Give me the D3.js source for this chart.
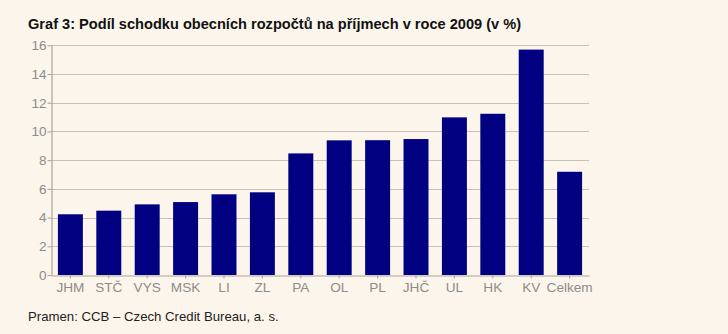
<!DOCTYPE html>
<html>
<head>
<meta charset="utf-8">
<script src="https://cdn.jsdelivr.net/npm/d3@7"></script>
<style>
  html, body { margin: 0; padding: 0; background: #fcf5eb; }
  svg { display: block; font-family: Arial, "Liberation Sans", sans-serif; }
</style>
</head>
<body>
<svg id="chart" width="728" height="334"></svg>
<script>
// Regions and the deficit share of revenues in 2009 (%)
const categories = ["JHM", "STČ", "VYS", "MSK", "LI", "ZL", "PA", "OL", "PL", "JHČ", "UL", "HK", "KV", "Celkem"];
const values = [4.23, 4.48, 4.92, 5.08, 5.62, 5.76, 8.47, 9.38, 9.39, 9.47, 10.98, 11.23, 15.7, 7.19];
const yTicks = [0, 2, 4, 6, 8, 10, 12, 14, 16];

const title = "Graf 3: Podíl schodku obecních rozpočtů na příjmech v roce 2009 (v %)";
const source = "Pramen: CCB – Czech Credit Bureau, a. s.";

const svg = d3.select("#chart");
const margin = { left: 51, right: 139, top: 45.3, bottom: 59 };
const W = 728, H = 334;

const x = d3.scaleBand()
  .domain(categories)
  .range([margin.left, W - margin.right])
  .paddingInner(0.35)
  .paddingOuter(0.18);

const y = d3.scaleLinear()
  .domain([0, 16])
  .range([H - margin.bottom, margin.top]);

// Title
svg.append("text")
  .attr("x", 28).attr("y", 29)
  .attr("font-size", 14.6).attr("font-weight", "bold")
  .attr("fill", "#111")
  .text(title);

// Horizontal gridlines
svg.append("g")
  .selectAll("line")
  .data(yTicks.filter(d => d > 0))
  .join("line")
  .attr("x1", margin.left).attr("x2", W - margin.right)
  .attr("y1", d => Math.round(y(d)) + 0.5).attr("y2", d => Math.round(y(d)) + 0.5)
  .attr("stroke", "#c9c1b7").attr("stroke-width", 1.2);

// Bars
svg.append("g")
  .selectAll("rect")
  .data(categories.map((c, i) => ({ c, v: values[i] })))
  .join("rect")
  .attr("x", d => x(d.c))
  .attr("width", x.bandwidth())
  .attr("y", d => y(d.v))
  .attr("height", d => y(0) - y(d.v))
  .attr("fill", "#000080");

// Y axis
const yAxis = svg.append("g")
  .attr("transform", `translate(${margin.left + 0.5},0)`)
  .call(d3.axisLeft(y).tickValues(yTicks).tickSize(4).tickPadding(1).tickSizeOuter(0));

// X axis
const xAxis = svg.append("g")
  .attr("transform", `translate(0,${Math.round(y(0)) + 0.5})`)
  .call(d3.axisBottom(x).tickSize(3).tickPadding(4).tickSizeOuter(0));

[yAxis, xAxis].forEach(g => {
  g.select(".domain").attr("stroke", "#aaa39b").attr("stroke-width", 1.2);
  g.selectAll(".tick line").attr("stroke", "#aaa39b");
  g.selectAll(".tick text")
    .attr("fill", "#8c8c8c")
    .attr("font-size", 13.6)
    .attr("font-family", "Arial, 'Liberation Sans', sans-serif");
});

// Source note
svg.append("text")
  .attr("x", 28).attr("y", 321)
  .attr("font-size", 13.2)
  .attr("fill", "#222")
  .text(source);
</script>
</body>
</html>
